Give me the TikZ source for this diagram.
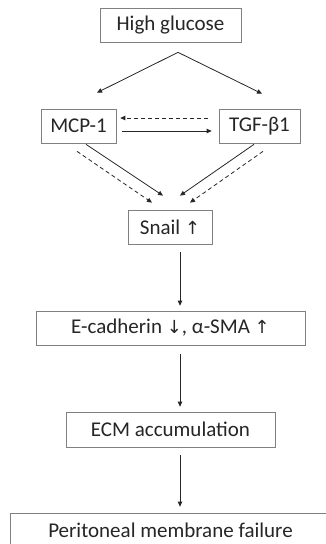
\documentclass[tikz,border=0pt]{standalone}
\usepackage{fontspec}
\setmainfont{Carlito}
\newfontfamily\symfont{DejaVu Sans}
\usetikzlibrary{arrows.meta}
\begin{document}
\begin{tikzpicture}[x=1pt,y=-1pt,
  box/.style={draw=black!50,line width=0.7pt,inner sep=0pt,minimum height=34pt,text=black!85,font=\fontsize{21}{25}\selectfont},
  arr/.style={draw=black!85,line width=0.8pt,-{Triangle[length=5pt,width=4.5pt]}},
  darr/.style={arr,dash pattern=on 4pt off 3pt}]
\useasboundingbox (0,0) rectangle (326,544);
\fill[white] (0,0) rectangle (326,544);
\node[box,minimum width=141pt] (hg) at (170.5,25) {High glucose};
\node[box,minimum width=75pt] (mcp) at (78.5,126) {MCP-1};
\node[box,minimum width=81pt] (tgf) at (259.5,126) {TGF-β1};
\node[box,minimum width=84pt] (snail) at (170,227) {Snail {\symfont\fontsize{18}{22}\selectfont ↑}};
\node[box,minimum width=269pt] (ecad) at (170.5,328) {E-cadherin {\symfont\fontsize{18}{22}\selectfont ↓}, α-SMA {\symfont\fontsize{18}{22}\selectfont ↑}};
\node[box,minimum width=209pt,minimum height=35pt] (ecm) at (170.5,429.5) {ECM accumulation};
\node[box,minimum width=321pt] (pmf) at (170.5,530) {Peritoneal membrane failure};
% connectors
\draw[arr] ([xshift=7.5pt,yshift=-10pt]hg.south) -- ([xshift=18.5pt,yshift=16pt]mcp.north);
\draw[arr] ([xshift=7.5pt,yshift=-10pt]hg.south) -- ([xshift=2.5pt,yshift=15pt]tgf.north);
\draw[darr] ([xshift=-11pt,yshift=8pt]tgf.west) -- ([xshift=4pt,yshift=8pt]mcp.east);
\draw[arr] ([xshift=6pt,yshift=-5pt]mcp.east) -- ([xshift=-7pt,yshift=-5pt]tgf.west);
\draw[arr] ([xshift=7.5pt,yshift=-1pt]mcp.south) -- ([xshift=-7pt,yshift=14pt]snail.north);
\draw[darr] ([xshift=-1.5pt,yshift=-8pt]mcp.south) -- ([xshift=-18pt,yshift=7pt]snail.north);
\draw[arr] ([xshift=-5.5pt,yshift=-1pt]tgf.south) -- ([xshift=10pt,yshift=14pt]snail.north);
\draw[darr] ([xshift=3.5pt,yshift=-8pt]tgf.south) -- ([xshift=20pt,yshift=7pt]snail.north);
\draw[arr] ([xshift=10pt,yshift=-8pt]snail.south) -- ([xshift=9.5pt,yshift=5pt]ecad.north);
\draw[arr] ([xshift=9.5pt,yshift=-9pt]ecad.south) -- ([xshift=9.5pt,yshift=5pt]ecm.north);
\draw[arr] ([xshift=9.5pt,yshift=-8pt]ecm.south) -- ([xshift=9.5pt,yshift=6pt]pmf.north);
\end{tikzpicture}
\end{document}
